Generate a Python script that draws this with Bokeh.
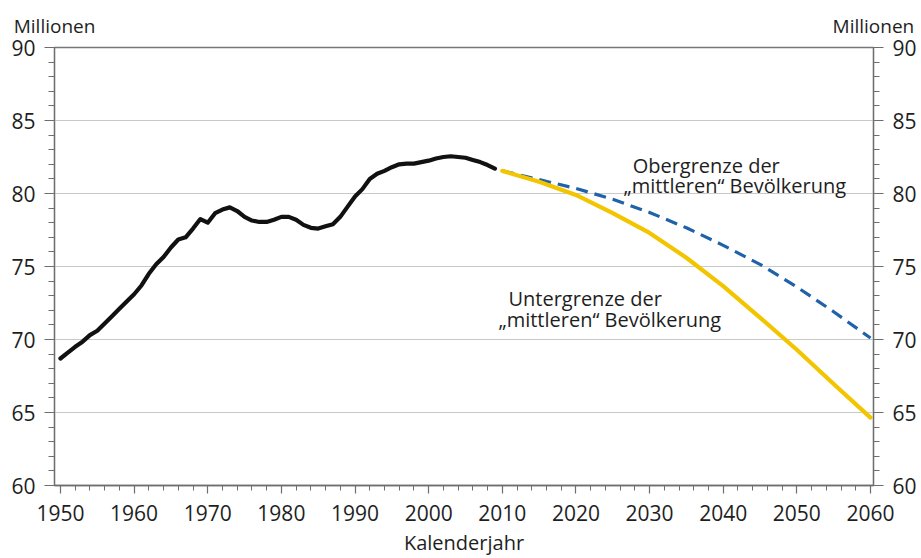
from bokeh.plotting import figure
from bokeh.models import LinearAxis, Range1d, Label, FixedTicker
from bokeh.embed import file_html
from bokeh.resources import INLINE

# ---- data ----
hist_years = list(range(1950, 2010))
hist_values = [
    68.7, 69.1, 69.5, 69.85, 70.3, 70.6, 71.1, 71.6, 72.1, 72.6,   # 1950-59
    73.1, 73.7, 74.5, 75.15, 75.65, 76.3, 76.85, 77.0, 77.6, 78.25,  # 1960-69
    78.0, 78.65, 78.9, 79.05, 78.8, 78.4, 78.15, 78.05, 78.05, 78.2,  # 1970-79
    78.4, 78.4, 78.2, 77.85, 77.65, 77.6, 77.75, 77.9, 78.4, 79.1,  # 1980-89
    79.8, 80.3, 81.0, 81.35, 81.55, 81.8, 82.0, 82.05, 82.05, 82.15,  # 1990-99
    82.25, 82.4, 82.5, 82.55, 82.5, 82.45, 82.3, 82.15, 81.95, 81.7,  # 2000-09
]
proj_years = [2010, 2015, 2020, 2025, 2030, 2035, 2040, 2045, 2050, 2055, 2060]
lower_values = [81.55, 80.8, 79.9, 78.65, 77.3, 75.6, 73.65, 71.5, 69.3, 66.95, 64.65]
upper_values = [81.55, 80.95, 80.35, 79.6, 78.7, 77.65, 76.45, 75.15, 73.6, 71.9, 70.1]

x_ticks = list(range(1950, 2061, 10))
x_minor = list(range(1950, 2061, 2))
y_ticks = [60, 65, 70, 75, 80, 85, 90]
y_minor = list(range(60, 91))

X_START, X_END = 1949.19, 2060.41
unit_label = "Millionen"
x_label = "Kalenderjahr"
upper_text = ["Obergrenze der", "\u201emittleren\u201c Bevölkerung"]
lower_text = ["Untergrenze der", "\u201emittleren\u201c Bevölkerung"]

FONT = "Open Sans"
AX = "#6e6e6e"
TXT = "#1e1e1e"

p = figure(width=921, height=558,
           x_range=Range1d(X_START, X_END), y_range=Range1d(60, 90),
           output_backend="svg", toolbar_location=None,
           min_border_left=54, min_border_right=48,
           min_border_top=47, min_border_bottom=69)

p.background_fill_color = "white"
p.border_fill_color = "white"
p.outline_line_color = "#777777"
p.outline_line_width = 1.3

p.xgrid.visible = False
p.ygrid.ticker = FixedTicker(ticks=y_ticks)
p.ygrid.grid_line_color = "#c9c9c9"
p.ygrid.grid_line_width = 1.2

def style_axis(ax, ticks, minor, tick_len, minor_len, standoff):
    ax.ticker = FixedTicker(ticks=ticks, minor_ticks=minor)
    ax.axis_line_color = AX
    ax.axis_line_width = 1.3
    ax.major_tick_line_color = AX
    ax.minor_tick_line_color = AX
    ax.major_tick_line_width = 1.2
    ax.minor_tick_line_width = 1.0
    ax.major_tick_out = tick_len
    ax.major_tick_in = 0
    ax.minor_tick_out = minor_len
    ax.minor_tick_in = 0
    ax.major_label_text_font = FONT
    ax.major_label_text_font_size = "21px"
    ax.major_label_text_color = TXT
    ax.major_label_standoff = standoff

# bottom axis
xa = p.xaxis[0]
style_axis(xa, x_ticks, x_minor, 8, 5, 11)
xa.axis_label = x_label
xa.axis_label_text_font = FONT
xa.axis_label_text_font_size = "20px"
xa.axis_label_text_font_style = "normal"
xa.axis_label_text_color = TXT
xa.axis_label_standoff = 5

# left axis
ya = p.yaxis[0]
style_axis(ya, y_ticks, y_minor, 10, 6, 9)

# right axis
yr = LinearAxis()
style_axis(yr, y_ticks, y_minor, 10, 6, 9)
p.add_layout(yr, "right")

# top axis: carries only the unit label above each vertical axis
unit_ticks = [round(X_START + 0.01, 2), round(X_END - 0.01, 2)]
top = LinearAxis(ticker=FixedTicker(ticks=unit_ticks, minor_ticks=[]))
top.axis_line_color = None
top.major_tick_line_color = None
top.minor_tick_line_color = None
top.major_label_overrides = {t: unit_label for t in unit_ticks}
top.major_label_text_font = FONT
top.major_label_text_font_size = "19px"
top.major_label_text_color = TXT
top.major_label_standoff = 3
p.add_layout(top, "above")

# lines
p.line(hist_years, hist_values, line_color="#111111", line_width=4.2,
       line_join="round", line_cap="round")
p.line(proj_years, upper_values, line_color="#1f62aa", line_width=3.2,
       line_dash="12 7")
p.line(proj_years, lower_values, line_color="#f2c500", line_width=4.2,
       line_join="round", line_cap="round")

def lab(x, y, t, align="left", size="20px"):
    p.add_layout(Label(x=x, y=y, text=t, text_font=FONT, text_font_size=size,
                       text_color=TXT, text_align=align,
                       text_baseline="alphabetic"))

lab(2027.7, 81.92, upper_text[0])
lab(2026.46, 80.52, upper_text[1])
lab(2010.84, 72.83, lower_text[0])
lab(2009.48, 71.36, lower_text[1])

open("out.html", "w").write(file_html(p, INLINE))
